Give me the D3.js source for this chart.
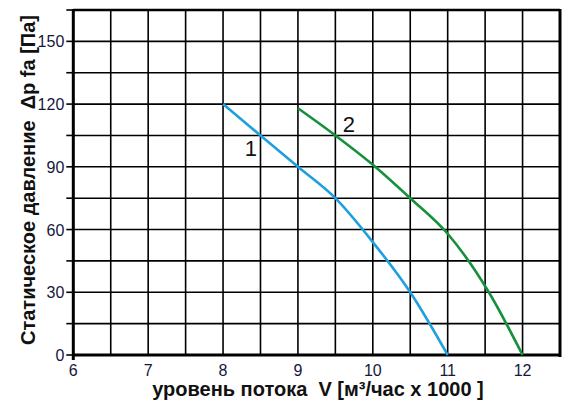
<!DOCTYPE html>
<html>
<head>
<meta charset="utf-8">
<script src="https://cdn.jsdelivr.net/npm/d3@7"></script>
<style>
  html, body { margin: 0; padding: 0; background: #fff; }
  svg { display: block; }
  text { white-space: pre; }
</style>
</head>
<body>
<svg id="chart" width="588" height="420"></svg>
<script>
// ---- data ----
const xTicks = [6, 7, 8, 9, 10, 11, 12];
const yTicks = [0, 30, 60, 90, 120, 150];
const curve1X = [8, 8.5, 9, 9.5, 10, 10.5, 11];
const curve1Y = [120, 105, 90, 75, 54, 30, 0];
const curve2X = [9, 9.5, 10, 10.5, 11, 11.55, 12];
const curve2Y = [118, 105, 91, 75, 58, 30, 0];
const curveLabels = ["1", "2"];
const xTitle = "уровень потока  V [м³/час х 1000 ]";
const yTitle = "Статическое давление  Δp fa [Па]";

// ---- layout ----
const svg = d3.select("#chart");
const L = 73.3, R = 560, T = 10, B = 355;
const x = d3.scaleLinear().domain([6, 12.5]).range([L, R]);
const y = d3.scaleLinear().domain([0, 165]).range([B, T]);

const font = "'Liberation Sans', Arial, sans-serif";
const textColor = "#15173d";

// grid
const gx = d3.range(6, 12.5001, 0.5);
const gy = d3.range(0, 165.001, 15);
svg.append("g").selectAll("line").data(gx).join("line")
  .attr("x1", d => x(d)).attr("x2", d => x(d))
  .attr("y1", T).attr("y2", B)
  .attr("stroke", "#000").attr("stroke-width", 1.6);
svg.append("g").selectAll("line").data(gy).join("line")
  .attr("x1", L).attr("x2", R)
  .attr("y1", d => y(d)).attr("y2", d => y(d))
  .attr("stroke", "#000").attr("stroke-width", 1.6);

// y ticks (outward, every 15)
svg.append("g").selectAll("line").data(gy).join("line")
  .attr("x1", L - 7).attr("x2", L)
  .attr("y1", d => y(d)).attr("y2", d => y(d))
  .attr("stroke", "#000").attr("stroke-width", 1.6);

// frame
svg.append("line").attr("x1", L).attr("x2", R).attr("y1", T).attr("y2", T)
  .attr("stroke", "#000").attr("stroke-width", 2.4);
svg.append("line").attr("x1", R).attr("x2", R).attr("y1", T - 1).attr("y2", B + 2)
  .attr("stroke", "#000").attr("stroke-width", 3);
svg.append("line").attr("x1", L).attr("x2", L).attr("y1", T - 1).attr("y2", B + 5)
  .attr("stroke", "#000").attr("stroke-width", 3);
svg.append("line").attr("x1", L - 1).attr("x2", R + 1).attr("y1", B).attr("y2", B)
  .attr("stroke", "#000").attr("stroke-width", 3);

// tick labels
svg.append("g").selectAll("text").data(yTicks).join("text")
  .attr("x", L - 9).attr("y", d => y(d) + 6)
  .attr("text-anchor", "end")
  .attr("font-family", font).attr("font-size", 16)
  .attr("fill", textColor)
  .text(d => d);
svg.append("g").selectAll("text").data(xTicks).join("text")
  .attr("x", d => x(d)).attr("y", B + 21)
  .attr("text-anchor", "middle")
  .attr("font-family", font).attr("font-size", 16)
  .attr("fill", textColor)
  .text(d => d);

// curves
const line = d3.line().x(d => x(d[0])).y(d => y(d[1])).curve(d3.curveMonotoneX);
const c1 = curve1X.map((v, i) => [v, curve1Y[i]]);
const c2 = curve2X.map((v, i) => [v, curve2Y[i]]);
svg.append("path").attr("d", line(c1)).attr("fill", "none")
  .attr("stroke", "#1ea0e0").attr("stroke-width", 2.6);
svg.append("path").attr("d", line(c2)).attr("fill", "none")
  .attr("stroke", "#15913c").attr("stroke-width", 2.6);

// curve labels
svg.append("text").attr("x", x(8.37)).attr("y", y(95.2))
  .attr("text-anchor", "middle").attr("font-family", font).attr("font-size", 22)
  .attr("fill", "#111").text(curveLabels[0]);
svg.append("text").attr("x", x(9.68)).attr("y", y(106.7))
  .attr("text-anchor", "middle").attr("font-family", font).attr("font-size", 22)
  .attr("fill", "#111").text(curveLabels[1]);

// axis titles
svg.append("text").attr("x", 318).attr("y", 396)
  .attr("text-anchor", "middle").attr("font-family", font).attr("font-size", 20)
  .attr("font-weight", "bold").attr("fill", "#111").text(xTitle);
svg.append("text").attr("transform", "translate(35,180) rotate(-90)")
  .attr("text-anchor", "middle").attr("font-family", font).attr("font-size", 20)
  .attr("font-weight", "bold").attr("fill", "#111").text(yTitle);
</script>
</body>
</html>
